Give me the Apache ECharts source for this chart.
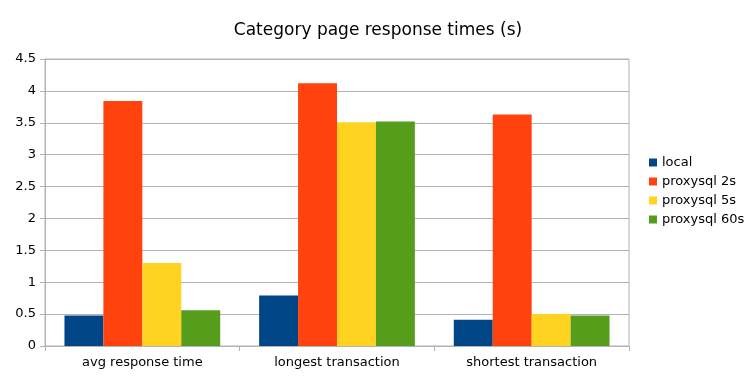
<!DOCTYPE html>
<html>
<head>
<meta charset="utf-8">
<script src="https://cdn.jsdelivr.net/npm/echarts@6/dist/echarts.min.js"></script>
<style>
  html, body { margin: 0; padding: 0; background: #fff; }
  #chart { width: 756px; height: 378px; }
</style>
</head>
<body>
<div id="chart"></div>
<script>
// data
var categories = ['avg response time', 'longest transaction', 'shortest transaction'];
var seriesNames = ['local', 'proxysql 2s', 'proxysql 5s', 'proxysql 60s'];
var local = [0.48, 0.79, 0.41];
var proxy2s = [3.84, 4.12, 3.63];
var proxy5s = [1.30, 3.51, 0.50];
var proxy60s = [0.56, 3.52, 0.48];
var colors = ['#004586', '#ff420e', '#ffd320', '#579d1c'];

var font = 'DejaVu Sans';
var myChart = echarts.init(document.getElementById('chart'));

var values = [local, proxy2s, proxy5s, proxy60s];
var series = values.map(function (v, i) {
  return {
    name: seriesNames[i],
    type: 'bar',
    data: v,
    barGap: 0,
    barCategoryGap: '20%',
    itemStyle: { color: colors[i] }
  };
});

var option = {
  animation: false,
  color: colors,
  textStyle: { fontFamily: font },
  title: {
    text: 'Category page response times (s)',
    left: 'center',
    top: 17,
    textStyle: { fontFamily: font, fontSize: 17, fontWeight: 'normal', color: '#000' }
  },
  legend: {
    orient: 'vertical',
    left: 644,
    top: 151,
    itemWidth: 8,
    itemHeight: 8,
    itemGap: 6,
    icon: 'rect',
    textStyle: { fontFamily: font, fontSize: 13, color: '#000' },
    data: seriesNames
  },
  grid: { left: 45, right: 127, top: 59, bottom: 32, containLabel: false,
    show: true, borderColor: '#b3b3b3', borderWidth: 1 },
  xAxis: {
    type: 'category',
    data: categories,
    axisLine: { lineStyle: { color: '#b3b3b3' } },
    axisTick: { show: true, length: 5, lineStyle: { color: '#b3b3b3' } },
    axisLabel: { fontFamily: font, fontSize: 13, color: '#000', margin: 10 }
  },
  yAxis: {
    type: 'value',
    min: 0,
    max: 4.5,
    interval: 0.5,
    axisLine: { show: true, lineStyle: { color: '#b3b3b3' } },
    axisTick: { show: true, length: 5, lineStyle: { color: '#b3b3b3' } },
    splitLine: { lineStyle: { color: '#b3b3b3' } },
    axisLabel: { fontFamily: font, fontSize: 13, color: '#000', margin: 9 }
  },
  series: series
};
myChart.setOption(option);
</script>
</body>
</html>
